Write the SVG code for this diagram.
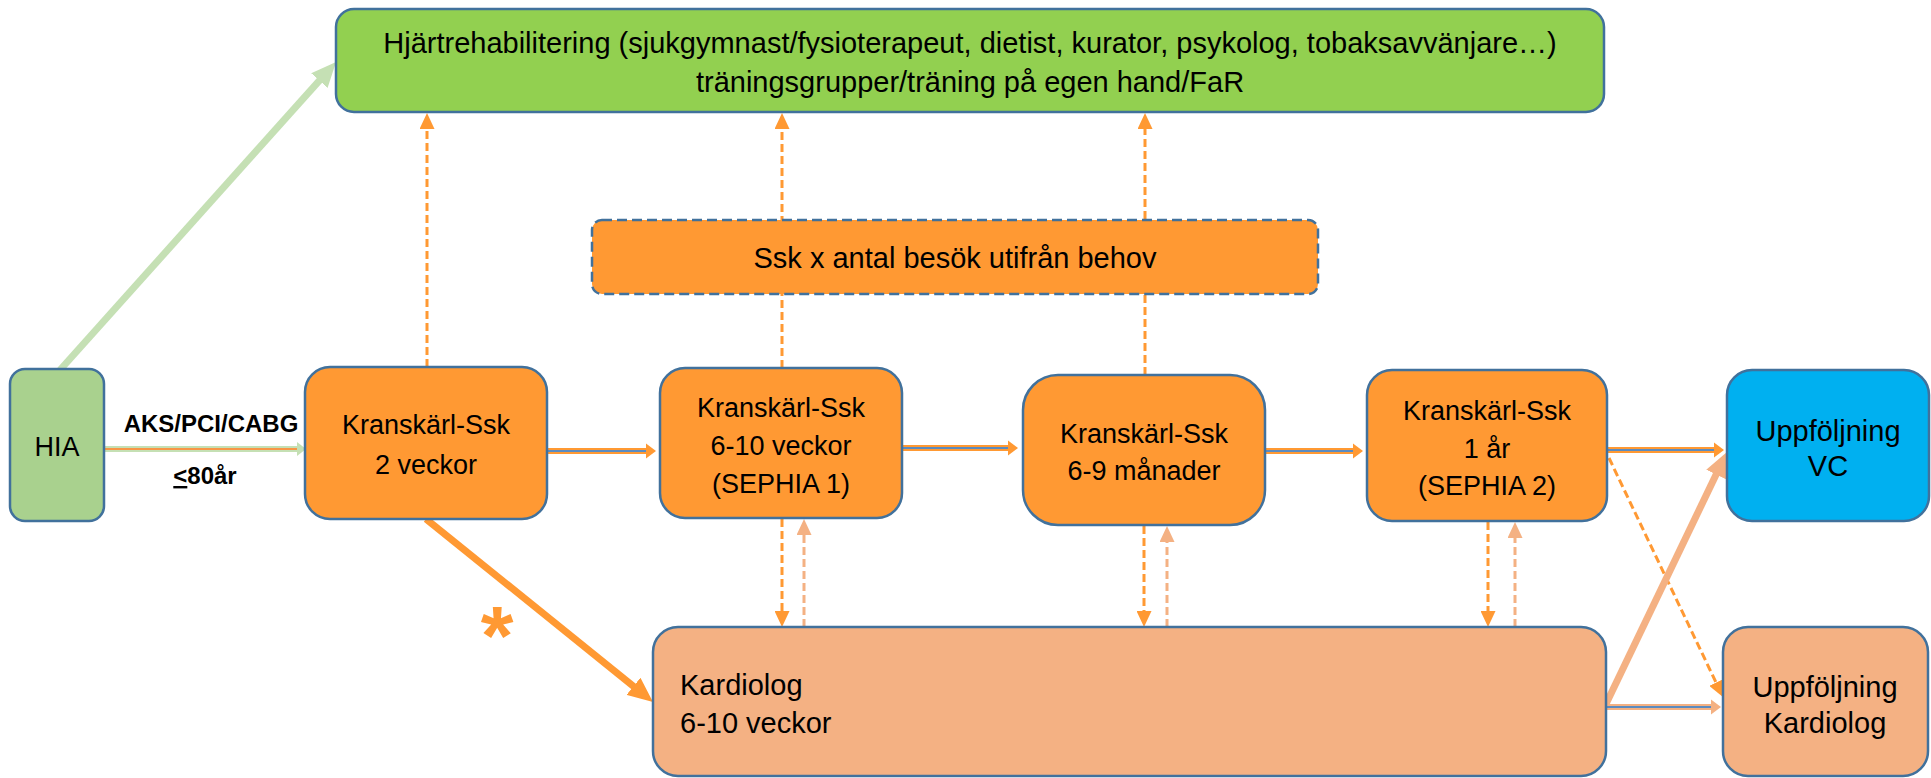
<svg xmlns="http://www.w3.org/2000/svg" width="1931" height="778" viewBox="0 0 1931 778">
<defs>
<style>
.node { stroke: #41719C; stroke-width: 2.5; }
.t { font-family: "Liberation Sans", Arial, sans-serif; fill: #000; text-anchor: middle; }
.s27 { font-size: 27px; }
.s29 { font-size: 29px; }
.lbl { font-family: "Liberation Sans", Arial, sans-serif; font-weight: bold; font-size: 24px; fill: #000; text-anchor: middle; }
.dash-o { stroke: #FF9933; stroke-width: 3; stroke-dasharray: 8 4; fill: none; }
.dash-p { stroke: #F4B183; stroke-width: 3; stroke-dasharray: 8 4; fill: none; }
.thick { stroke-width: 7; fill: none; }
</style>
<marker id="ao" markerUnits="userSpaceOnUse" viewBox="0 0 16 15" markerWidth="16" markerHeight="15" refX="4" refY="7.5" orient="auto"><path d="M0,0 L16,7.5 L0,15 z" fill="#FF9933"/></marker>
<marker id="ap" markerUnits="userSpaceOnUse" viewBox="0 0 16 15" markerWidth="16" markerHeight="15" refX="4" refY="7.5" orient="auto"><path d="M0,0 L16,7.5 L0,15 z" fill="#F4B183"/></marker>
<marker id="bo" markerUnits="userSpaceOnUse" viewBox="0 0 25 22" markerWidth="25" markerHeight="22" refX="5" refY="11" orient="auto"><path d="M0,0 L25,11 L0,22 z" fill="#FF9933"/></marker>
<marker id="bp" markerUnits="userSpaceOnUse" viewBox="0 0 25 22" markerWidth="25" markerHeight="22" refX="5" refY="11" orient="auto"><path d="M0,0 L25,11 L0,22 z" fill="#F4B183"/></marker>
<marker id="bg" markerUnits="userSpaceOnUse" viewBox="0 0 25 22" markerWidth="25" markerHeight="22" refX="5" refY="11" orient="auto"><path d="M0,0 L25,11 L0,22 z" fill="#C5E0B4"/></marker>
</defs>

<g id="connectors">
  <line x1="60" y1="370" x2="322.7" y2="76.9" class="thick" stroke="#C5E0B4" marker-end="url(#bg)"/>
  <line x1="104" y1="449" x2="300" y2="449" stroke="#C5E0B4" stroke-width="6"/>
  <line x1="104" y1="449" x2="298" y2="449" stroke="#F79646" stroke-width="2"/>
  <polygon points="297,442 306,449 297,456" fill="#C5E0B4"/>
  <line x1="547" y1="451" x2="649" y2="451" stroke="#FF9933" stroke-width="6"/>
  <line x1="547" y1="451" x2="647" y2="451" stroke="#5B8BC0" stroke-width="2"/>
  <polygon points="646,443.5 656,451 646,458.5" fill="#FF9933"/>
  <line x1="902" y1="448" x2="1011" y2="448" stroke="#FF9933" stroke-width="6"/>
  <line x1="902" y1="448" x2="1009" y2="448" stroke="#5B8BC0" stroke-width="2"/>
  <polygon points="1008,440.5 1018,448 1008,455.5" fill="#FF9933"/>
  <line x1="1265" y1="451" x2="1356" y2="451" stroke="#FF9933" stroke-width="6"/>
  <line x1="1265" y1="451" x2="1354" y2="451" stroke="#5B8BC0" stroke-width="2"/>
  <polygon points="1353,443.5 1363,451 1353,458.5" fill="#FF9933"/>
  <line x1="1607" y1="450" x2="1717" y2="450" stroke="#FF9933" stroke-width="6"/>
  <line x1="1607" y1="450" x2="1715" y2="450" stroke="#5B8BC0" stroke-width="2"/>
  <polygon points="1714,442.5 1724,450 1714,457.5" fill="#FF9933"/>
  <line x1="1606" y1="707" x2="1714" y2="707" stroke="#F4B183" stroke-width="6"/>
  <line x1="1606" y1="707" x2="1712" y2="707" stroke="#5B8BC0" stroke-width="2"/>
  <polygon points="1711,699.5 1721,707 1711,714.5" fill="#F4B183"/>
  <line x1="427" y1="367" x2="427" y2="125" class="dash-o" marker-end="url(#ao)"/>
  <line x1="782" y1="368" x2="782" y2="125" class="dash-o" marker-end="url(#ao)"/>
  <line x1="1145" y1="375" x2="1145" y2="125" class="dash-o" marker-end="url(#ao)"/>
  <line x1="782" y1="519" x2="782" y2="615" class="dash-o" marker-end="url(#ao)"/>
  <line x1="1144" y1="526" x2="1144" y2="615" class="dash-o" marker-end="url(#ao)"/>
  <line x1="1488" y1="522" x2="1488" y2="615" class="dash-o" marker-end="url(#ao)"/>
  <line x1="804" y1="627" x2="804" y2="531" class="dash-p" marker-end="url(#ap)"/>
  <line x1="1167" y1="627" x2="1167" y2="538" class="dash-p" marker-end="url(#ap)"/>
  <line x1="1515" y1="627" x2="1515" y2="534" class="dash-p" marker-end="url(#ap)"/>
  <line x1="1609" y1="458" x2="1717.8" y2="686.2" class="dash-o" marker-end="url(#ao)"/>
  <line x1="1606" y1="704" x2="1718.3" y2="470" class="thick" stroke="#F4B183" marker-end="url(#bp)"/>
  <line x1="426" y1="519" x2="637.4" y2="689.4" class="thick" stroke="#FF9933" marker-end="url(#bo)"/>
  <text x="211" y="432" class="lbl">AKS/PCI/CABG</text>
  <text x="205" y="484" class="lbl" font-size="25"><tspan text-decoration="underline">&lt;</tspan>80år</text>
  <text x="497" y="665" font-family="Liberation Sans, Arial, sans-serif" font-weight="bold" font-size="84" fill="#FF9933" text-anchor="middle">*</text>
</g>

<g id="rehab">
  <rect x="336" y="9" width="1268" height="103" rx="18" fill="#92D050" class="node"/>
  <text x="970" y="53" class="t s29">Hjärtrehabilitering (sjukgymnast/fysioterapeut, dietist, kurator, psykolog, tobaksavvänjare…)</text>
  <text x="970" y="92" class="t s29">träningsgrupper/träning på egen hand/FaR</text>
</g>

<g id="ssk-behov">
  <rect x="592" y="220" width="726" height="74" rx="10" fill="#FF9933" stroke="#41719C" stroke-width="2.5" stroke-dasharray="10 5"/>
  <text x="955" y="268" class="t s29">Ssk x antal besök utifrån behov</text>
</g>

<g id="hia">
  <rect x="10" y="369" width="94" height="152" rx="15" fill="#A9D18E" class="node"/>
  <text x="57" y="456" class="t s27">HIA</text>
</g>

<g id="ssk-2v">
  <rect x="305" y="367" width="242" height="152" rx="25" fill="#FF9933" class="node"/>
  <text x="426" y="434" class="t s27">Kranskärl-Ssk</text>
  <text x="426" y="474" class="t s27">2 veckor</text>
</g>

<g id="ssk-6-10v">
  <rect x="660" y="368" width="242" height="150" rx="25" fill="#FF9933" class="node"/>
  <text x="781" y="417" class="t s27">Kranskärl-Ssk</text>
  <text x="781" y="455" class="t s27">6-10 veckor</text>
  <text x="781" y="493" class="t s27">(SEPHIA 1)</text>
</g>

<g id="ssk-6-9m">
  <rect x="1023" y="375" width="242" height="150" rx="35" fill="#FF9933" class="node"/>
  <text x="1144" y="443" class="t s27">Kranskärl-Ssk</text>
  <text x="1144" y="480" class="t s27">6-9 månader</text>
</g>

<g id="ssk-1ar">
  <rect x="1367" y="370" width="240" height="151" rx="25" fill="#FF9933" class="node"/>
  <text x="1487" y="420" class="t s27">Kranskärl-Ssk</text>
  <text x="1487" y="458" class="t s27">1 år</text>
  <text x="1487" y="495" class="t s27">(SEPHIA 2)</text>
</g>

<g id="uppf-vc">
  <rect x="1727" y="370" width="202" height="151" rx="25" fill="#00B0F0" class="node"/>
  <text x="1828" y="441" class="t s29">Uppföljning</text>
  <text x="1828" y="476" class="t s29">VC</text>
</g>

<g id="kardiolog">
  <rect x="653" y="627" width="953" height="149" rx="25" fill="#F4B183" class="node"/>
  <text x="680" y="695" class="s29" font-family="Liberation Sans, Arial, sans-serif" fill="#000">Kardiolog</text>
  <text x="680" y="733" class="s29" font-family="Liberation Sans, Arial, sans-serif" fill="#000">6-10 veckor</text>
</g>

<g id="uppf-kardiolog">
  <rect x="1723" y="627" width="205" height="149" rx="25" fill="#F4B183" class="node"/>
  <text x="1825" y="697" class="t s29">Uppföljning</text>
  <text x="1825" y="733" class="t s29">Kardiolog</text>
</g>
</svg>
